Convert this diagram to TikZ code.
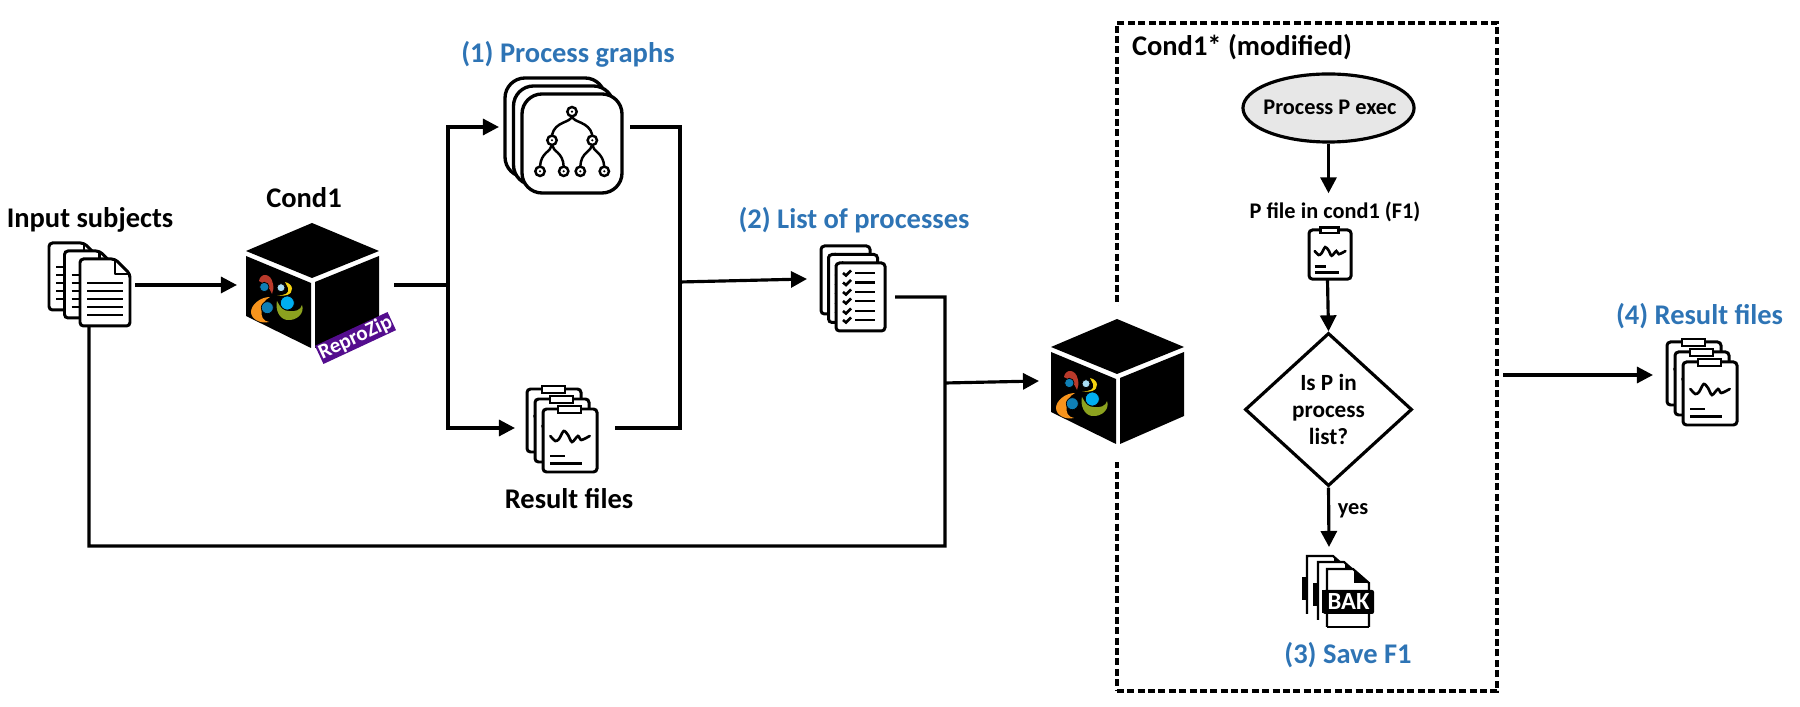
\documentclass[tikz,border=0pt]{standalone}
\usepackage{fontspec}
\setmainfont{Carlito}
\usetikzlibrary{arrows.meta,shapes.geometric}
\definecolor{HeadClr}{HTML}{2E74B5}
\definecolor{ZipClr}{HTML}{540D8E}
\definecolor{ExecClr}{HTML}{E7E7E7}
\definecolor{BloomRed}{HTML}{B93A2B}
\definecolor{BloomYellow}{HTML}{F5D20F}
\definecolor{BloomOrange}{HTML}{F7941D}
\definecolor{BloomOlive}{HTML}{8CA21F}
\definecolor{BloomDark}{HTML}{0F7FB5}
\definecolor{BloomCyan}{HTML}{00AEEF}
\definecolor{BloomLight}{HTML}{A8DDF5}
\tikzset{
  conn/.style={line width=.9pt,line join=miter},
  arr/.style={conn,-{Triangle[length=.16cm,width=.16cm]}},
  iconbox/.style={inner sep=0pt,outer sep=0pt},
  ico/.style={line width=.85pt,fill=white,rounded corners=.35mm},
  txt/.style={inner sep=0pt,font=\bfseries\fontsize{8.1}{9.7}\selectfont},
  small/.style={inner sep=0pt,font=\bfseries\fontsize{6.35}{7.7}\selectfont},
  head/.style={txt,text=HeadClr},
  zipbloom/.pic={
    \fill[BloomRed] (-16,-16) .. controls (-15,-24) and (-4,-25) .. (-2,-13) .. controls (-1,-9) and (-2,-6) .. (-3,-3) .. controls (-5,-10) and (-12,-14) .. (-16,-16) -- cycle;
    \fill[BloomYellow] (10,-15) .. controls (19,-13) and (19,-4) .. (12,-2) .. controls (8,-1) and (5,-1) .. (2,-2) .. controls (10,-1) and (15,-4) .. (13,-9) -- cycle;
    \fill[BloomOrange] (-5,0) .. controls (-15,0) and (-24,8) .. (-24,15) .. controls (-24,22) and (-15,27) .. (-6,25) .. controls (-12,24) and (-14,20) .. (-13.5,13) .. controls (-13,6) and (-10,3) .. (-5,0) -- cycle;
    \fill[BloomOlive] (2,4) .. controls (5,10) and (8,14) .. (14,14) .. controls (20,15) and (26,13) .. (27,8) .. controls (30,16) and (22,24) .. (12,23) .. controls (4,22) and (0,12) .. (2,4) -- cycle;
    \filldraw[fill=BloomDark,draw=black,line width=.2pt] (-10.7,-10) circle (.047cm);
    \filldraw[fill=BloomLight,draw=black,line width=.2pt] (6,-9.3) circle (.04cm);
    \filldraw[fill=BloomCyan,draw=black,line width=.2pt] (12.3,6) circle (.07cm);
    \filldraw[fill=BloomDark,draw=black,line width=.2pt] (-7.7,10.7) circle (.06cm);
  },
  boxcube/.pic={
    \fill[black] (0,0) -- (67,28) -- (0,55) -- (-66,28) -- cycle;
    \fill[black] (-66,33) -- (-1,60) -- (-1,125) -- (-66,93) -- cycle;
    \fill[black] (3,59) -- (67,33) -- (67,97) -- (3,125) -- cycle;
    \pic at (-37,74) {zipbloom};
  },
  doccard/.pic={
    \draw[ico] (0,0) -- (35,0) -- (50,15) -- (50,67) -- (0,67) -- cycle;
    \draw[line width=.8pt,line join=round] (35,0) -- (35,15) -- (50,15);
    \foreach \ly in {24,32,40,48,56} \draw[line width=.7pt] (7,\ly) -- (43,\ly);
  },
  gcard/.pic={
    \draw[line width=.95pt,fill=white,rounded corners=2mm] (0,0) rectangle (100,99);
  },
  treemark/.pic={
    \draw[line width=.7pt] (50,22) .. controls (49,29) and (33,27) .. (30,41);
    \draw[line width=.7pt] (50,22) .. controls (51,29) and (67,27) .. (70.3,41);
    \draw[line width=.7pt] (30,51) .. controls (29,58) and (19,58) .. (18,72.5);
    \draw[line width=.7pt] (30,51) .. controls (31,58) and (41,58) .. (41.7,72.5);
    \draw[line width=.7pt] (70.3,51) .. controls (69,58) and (59,58) .. (58.3,72.5);
    \draw[line width=.7pt] (70.3,51) .. controls (71,58) and (81,58) .. (82.3,72.5);
    \foreach \nx/\ny in {50/17.7,30/46.3,70.3/46.3,18/77.3,41.7/77.3,58.3/77.3,82.3/77.3} {
      \draw[line width=.7pt,fill=white] (\nx,\ny) circle (.047cm);
      \fill (\nx,\ny) circle (.012cm);
    }
  },
  clipcard/.pic={
    \draw[ico] (0,0) rectangle (54,63);
    \draw[line width=.7pt,fill=white] (15,-3) rectangle (38,4);
    \draw[line width=.75pt,line cap=round] plot[smooth] coordinates {(7.3,27) (12.3,32) (16,30) (20.7,22) (25,26) (29,33) (35,27) (38.3,31) (46.7,27)};
    \draw[line width=.7pt] (7.3,47) -- (22.3,47);
    \draw[line width=.7pt] (7.3,54.3) -- (39,54.3);
  },
  listcard/.pic={
    \draw[ico] (0,0) rectangle (49,68);
    \foreach \ly in {10,19.5,29,38,48,57} {
      \draw[line width=.75pt] (7,\ly) -- (10,\ly+2.5) -- (15,\ly-2.5);
      \draw[line width=.75pt] (19,\ly) -- (39,\ly);
    }
  },
  bakcard/.pic={
    \fill[white] (0,0) -- (26,0) -- (42,14) -- (42,58) -- (0,58) -- cycle;
    \draw[line width=.6pt] (0,58) -- (0,0) -- (26,0) -- (42,14) -- (42,58);
    \fill (27,1) -- (42,14) -- (27,14) -- cycle;
    \fill (-5,21) rectangle (0,44);
  },
  bakfront/.pic={
    \fill[rounded corners=.2mm] (-4,21) rectangle (47,45);
    \draw[line width=.6pt] (0,58) -- (42,58);
  },
}
\begin{document}
\begin{tikzpicture}[x=.01cm,y=-.01cm]
\useasboundingbox (0,0) rectangle (1800,707);

\node[draw,dashed,dash pattern=on 2pt off .95pt,line width=1pt,minimum width=3.8cm,minimum height=6.68cm,inner sep=0pt] (modified) at (1307,357) {};
\fill[white] (1108,306) rectangle (1126,462);

\node[txt] (lblsubjects) at (90,220) {Input subjects};
\node[txt] (lblcond) at (304,198) {Cond1};
\node[head] (lblgraphs) at (568,54) {(1) Process graphs};
\node[head] (lbllist) at (854,220) {(2) List of processes};
\node[txt] (lblresults) at (569,499) {Result files};
\node[txt] (lblmodified) at (1242,47) {Cond1* (modified)};
\node[head] (lblsave) at (1348,655) {(3) Save F1};
\node[head] (lblfinal) at (1699.5,316) {(4) Result files};

\node[iconbox,minimum width=.92cm,minimum height=.84cm] (subjects) at (89,285) {};
\node[iconbox,minimum width=1.57cm,minimum height=1.2cm] (cond) at (315.5,285) {};
\node[iconbox,minimum width=1.31cm,minimum height=1.2cm] (graphs) at (564.5,127) {};
\node[iconbox,minimum width=1cm,minimum height=.8cm] (results) at (565,428) {};
\node[iconbox,minimum width=.88cm,minimum height=.36cm] (checks) at (851,279) {};
\node[iconbox,minimum width=1.57cm,minimum height=1.2cm] (condmod) at (1117.5,381) {};
\node[iconbox,minimum width=.8cm,minimum height=.8cm] (final) at (1693,375) {};

\foreach \px/\py in {49/243,64.5/251,80/259} \pic at (\px,\py) {doccard};
\pic at (312,223) {boxcube};
\pic at (1117,319) {boxcube};
\node[fill=ZipClr,text=white,rotate=25,minimum width=.8cm,minimum height=.2cm,inner sep=0pt,font=\bfseries\fontsize{6}{7}\selectfont] (zipbadge) at (355.5,338) {ReproZip};

\foreach \px/\py in {505/78,513.5/86,522/94} \pic at (\px,\py) {gcard};
\pic at (522,94) {treemark};
\foreach \px/\py in {527/389,535/399,543/409} \pic at (\px,\py) {clipcard};
\foreach \px/\py in {821/246,828.5/254.5,836/263} \pic at (\px,\py) {listcard};
\foreach \px/\py in {1667/342,1675/352,1683/362} \pic at (\px,\py) {clipcard};

\coordinate (jsplit) at (448,285);
\coordinate (jmergetop) at (680,127);
\coordinate (jmergebot) at (680,428);
\coordinate (jmerge) at (680,282);
\coordinate (jlist) at (945,297);
\coordinate (jback) at (945,546);
\coordinate (jcond) at (945,383);
\coordinate (outfinal) at (1503,375);

\draw[arr] (subjects.east) -- (cond.west);
\draw[conn] (cond.east) -- (jsplit);
\draw[arr] (jsplit) |- (graphs.west);
\draw[arr] (jsplit) |- (results.west);
\draw[conn] (graphs.east) -- (jmergetop) -- (jmergebot) -- (results.east);
\draw[arr] (jmerge) -- (checks.west);
\draw[conn] (checks.south east) -- (jlist) -- (jback) -- (subjects.south |- jback) -- (subjects.south);
\draw[arr] (jcond) -- (condmod.west);

\node[draw,ellipse,fill=ExecClr,line width=.9pt,minimum width=1.71cm,minimum height=.68cm,inner sep=0pt] (exec) at (1328.5,108) {};
\node[small] (lblexec) at (1330,107) {Process P exec};
\node[small,minimum height=.36cm] (lblpfile) at (1335,212) {P file in cond1 (F1)};
\node[iconbox,minimum width=.44cm,minimum height=.52cm] (pfile) at (1327.5,254) {};
\pic[scale=.78] at (1309,230) {clipcard};
\node[draw,diamond,line width=.9pt,minimum width=1.67cm,minimum height=1.53cm,inner sep=0pt,align=center,font=\bfseries\fontsize{6.6}{7.7}\selectfont] (check) at (1328.5,409.5) {Is P in\\process\\list?};
\node[iconbox,minimum width=.8cm,minimum height=.86cm] (bak) at (1329,590) {};
\node[small] (lblyes) at (1353,511) {yes};
\foreach \px/\py in {1307/556,1318/562,1327/569} \pic at (\px,\py) {bakcard};
\pic at (1327,569) {bakfront};
\node[inner sep=0pt,text=white,font=\bfseries\fontsize{7}{8}\selectfont] (lblbak) at (1348.5,602) {BAK};

\draw[arr] (exec.south) -- (exec.south |- lblpfile.north);
\draw[arr] (pfile.south) -- (check.north);
\draw[arr] (check.south) -- (bak.north);
\draw[arr] (outfinal) -- (final.west);
\end{tikzpicture}
\end{document}
